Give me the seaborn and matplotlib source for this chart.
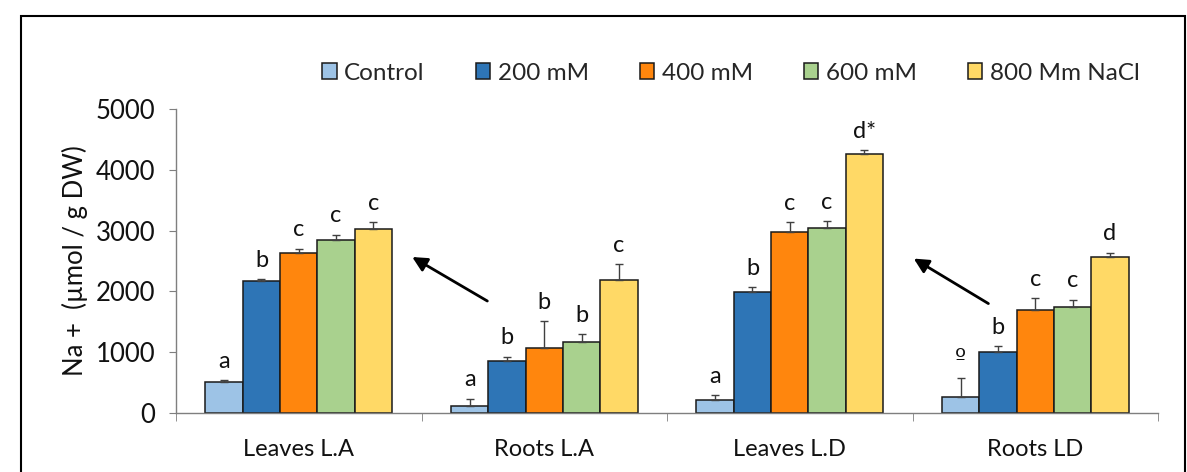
import pandas as pd
import numpy as np
import matplotlib
matplotlib.use("Agg")
import matplotlib.pyplot as plt
from matplotlib.patches import Rectangle
import seaborn as sns

# data
tissues = ['Leaves L.A', 'Roots L.A', 'Leaves L.D', 'Roots LD']
treatments = ['Control', '200 mM', '400 mM', '600 mM', '800 Mm NaCl']
na_control = [510, 120, 220, 268]
na_200 = [2170, 855, 1985, 998]
na_400 = [2630, 1075, 2982, 1689]
na_600 = [2845, 1163, 3037, 1738]
na_800 = [3030, 2182, 4260, 2571]
err_control = [30, 115, 76, 313]
err_200 = [30, 71, 82, 104]
err_400 = [70, 433, 159, 197]
err_600 = [85, 131, 116, 121]
err_800 = [110, 268, 66, 61]
letters_control = ['a', 'a', 'a', 'º']
letters_200 = ['b', 'b', 'b', 'b']
letters_400 = ['c', 'b', 'c', 'c']
letters_600 = ['c', 'b', 'c', 'c']
letters_800 = ['c', 'c', 'd*', 'd']
yticks = [0, 1000, 2000, 3000, 4000, 5000]

colors = ['#9DC3E6', '#2E75B6', '#FF860D', '#A9D18E', '#FFD966']

means = [na_control, na_200, na_400, na_600, na_800]
errs = [err_control, err_200, err_400, err_600, err_800]
letters = [letters_control, letters_200, letters_400, letters_600, letters_800]

rows = []
for t, vals in zip(treatments, means):
    for tissue, v in zip(tissues, vals):
        rows.append({'tissue': tissue, 'treatment': t, 'na': v})
df = pd.DataFrame(rows)

sns.set_style('white')
plt.rcParams['font.family'] = ['Lato', 'DejaVu Sans']

fig = plt.figure(figsize=(11.87, 4.72), dpi=100)
ax = fig.add_axes([0.1483, 0.125, 0.8273, 0.644])

sns.barplot(data=df, x='tissue', y='na', hue='treatment', order=tissues,
            hue_order=treatments, palette=colors, saturation=1,
            edgecolor='#1a1a1a', linewidth=1.1, width=0.76, errorbar=None, ax=ax)

# upper error bars and significance letters
bar_groups = list(ax.containers)
for i, cont in enumerate(bar_groups):
    for j, bar in enumerate(cont):
        xc = bar.get_x() + bar.get_width() / 2
        h = bar.get_height()
        ax.errorbar(xc, h, yerr=[[0], [errs[i][j]]], fmt='none',
                    ecolor='#404040', elinewidth=1, capsize=3.2, capthick=1)
        fam = ['DejaVu Sans'] if letters[i][j] == 'º' else ['Lato', 'DejaVu Sans']
        ax.annotate(letters[i][j], (xc, h + errs[i][j]), xytext=(0, 9),
                    textcoords='offset points', ha='center', va='baseline',
                    fontsize=17, color='#111111', family=fam)

# arrows
ax.annotate('', xy=(0.462, 2566), xytext=(0.768, 1842),
            arrowprops=dict(arrowstyle='-|>', color='black', lw=2,
                            mutation_scale=22, shrinkA=0, shrinkB=0))
ax.annotate('', xy=(2.505, 2540), xytext=(2.809, 1800),
            arrowprops=dict(arrowstyle='-|>', color='black', lw=2,
                            mutation_scale=22, shrinkA=0, shrinkB=0))

ax.set_xlim(-0.5, 3.5)
ax.set_ylim(0, 5000)
ax.set_yticks(yticks)
ax.set_xlabel('')
ax.set_ylabel('Na +  (µmol / g DW)', fontsize=18.5, color='#111111')
ax.yaxis.set_label_coords(-0.09, 0.5)

sns.despine(ax=ax)
for s in ['left', 'bottom']:
    ax.spines[s].set_color('#7f7f7f')
    ax.spines[s].set_linewidth(1)
ax.tick_params(axis='y', which='major', left=True, length=5, color='#7f7f7f',
               labelsize=18.5, labelcolor='#111111', pad=10)
ax.tick_params(axis='x', which='major', bottom=False, labelsize=17,
               labelcolor='#111111', pad=15)
ax.set_xticks([-0.5, 0.5, 1.5, 2.5, 3.5], minor=True)
ax.tick_params(axis='x', which='minor', bottom=True, length=6, color='#7f7f7f')

sns.move_legend(ax, loc='center', bbox_to_anchor=(0.565, 1.118), ncol=5,
                frameon=False, title=None, fontsize=17.5, handlelength=0.6,
                handleheight=0.6, handletextpad=0.3, columnspacing=2.1)

# outer chart border
fig.add_artist(Rectangle((0.0174, -0.1), 0.9806, 1.0667, transform=fig.transFigure,
                         fill=False, lw=1.5, ec='black'))

fig.savefig('out.png', dpi=100)
